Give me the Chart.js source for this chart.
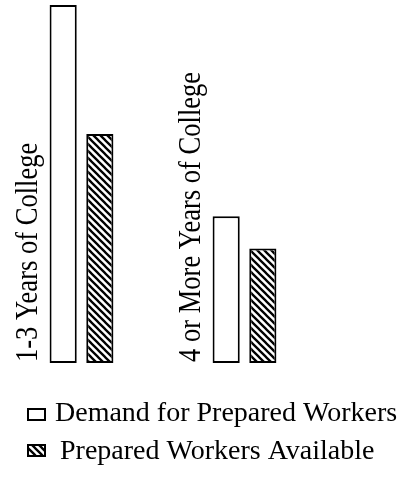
<!DOCTYPE html>
<html>
<head>
<meta charset="utf-8">
<script src="https://cdn.jsdelivr.net/npm/chart.js@4"></script>
<style>
  html, body { margin:0; padding:0; background:#fff; }
  #wrap { width:404px; height:483px; }
</style>
</head>
<body>
<div id="wrap"><canvas id="c" width="404" height="483"></canvas></div>
<script>
// values (relative units, tallest bar = 100)
const CATEGORIES = ["1-3 Years of College", "4 or More Years of College"];
const SERIES = ["Demand for Prepared Workers", "Prepared Workers Available"];
const DEMAND = [100, 41];
const AVAILABLE = [64, 32];

const SERIF = '"Liberation Serif", "DejaVu Serif", serif';

// diagonal hatch "\\\" for the available bars
function hatch(){
  const p = 7, c = document.createElement("canvas");
  c.width = p; c.height = p;
  const g = c.getContext("2d");
  g.fillStyle = "#fff"; g.fillRect(0,0,p,p);
  g.strokeStyle = "#000"; g.lineWidth = 2.3;
  g.beginPath();
  g.moveTo(-1,-1); g.lineTo(p+1,p+1);
  g.moveTo(-2,p-2); g.lineTo(2,p+2);
  g.moveTo(p-2,-2); g.lineTo(p+2,2);
  g.stroke();
  return g.createPattern(c, "repeat");
}
const HATCH = hatch();

// vertical category labels standing left of each group + legend at bottom
const decor = {
  id:"decor",
  afterDraw(chart){
    const ctx = chart.ctx, x = chart.scales.x, bottom = chart.chartArea.bottom;
    ctx.save();
    ctx.fillStyle = "#000";
    ctx.font = "32px " + SERIF;
    ctx.textAlign = "left"; ctx.textBaseline = "alphabetic";
    CATEGORIES.forEach((lab,i)=>{
      ctx.save();
      ctx.translate(x.getPixelForValue(i) - 45, bottom - 1);
      ctx.rotate(-Math.PI/2);
      ctx.scale(0.83, 1);
      ctx.fillText(lab, 0, 0);
      ctx.restore();
    });

    const rows = [
      { box:[28,409], text:[55,421], fill:"#fff" },
      { box:[28,445], text:[60,459], fill:HATCH },
    ];
    ctx.font = "28px " + SERIF;
    rows.forEach((r,i)=>{
      ctx.fillStyle = r.fill;
      ctx.fillRect(r.box[0], r.box[1], 17, 11);
      ctx.strokeStyle = "#000"; ctx.lineWidth = 2;
      ctx.strokeRect(r.box[0], r.box[1], 17, 11);
      ctx.fillStyle = "#000";
      ctx.fillText(SERIES[i], r.text[0], r.text[1]);
    });
    ctx.restore();
  }
};

new Chart(document.getElementById("c"), {
  type:"bar",
  data:{
    labels: CATEGORIES,
    datasets:[
      { label:SERIES[0], data:DEMAND, backgroundColor:"#fff", borderColor:"#000", borderWidth:2, borderSkipped:false },
      { label:SERIES[1], data:AVAILABLE, backgroundColor:HATCH, borderColor:"#000", borderWidth:2, borderSkipped:false },
    ]
  },
  options:{
    responsive:false,
    animation:false,
    layout:{ padding:{ top:5, bottom:120, left:-6, right:78 } },
    datasets:{ bar:{ categoryPercentage:0.45, barPercentage:0.74 } },
    plugins:{ legend:{ display:false }, tooltip:{ enabled:false } },
    scales:{
      x:{ display:false, offset:true },
      y:{ display:false, min:0, max:100 }
    }
  },
  plugins:[decor]
});
</script>
</body>
</html>
